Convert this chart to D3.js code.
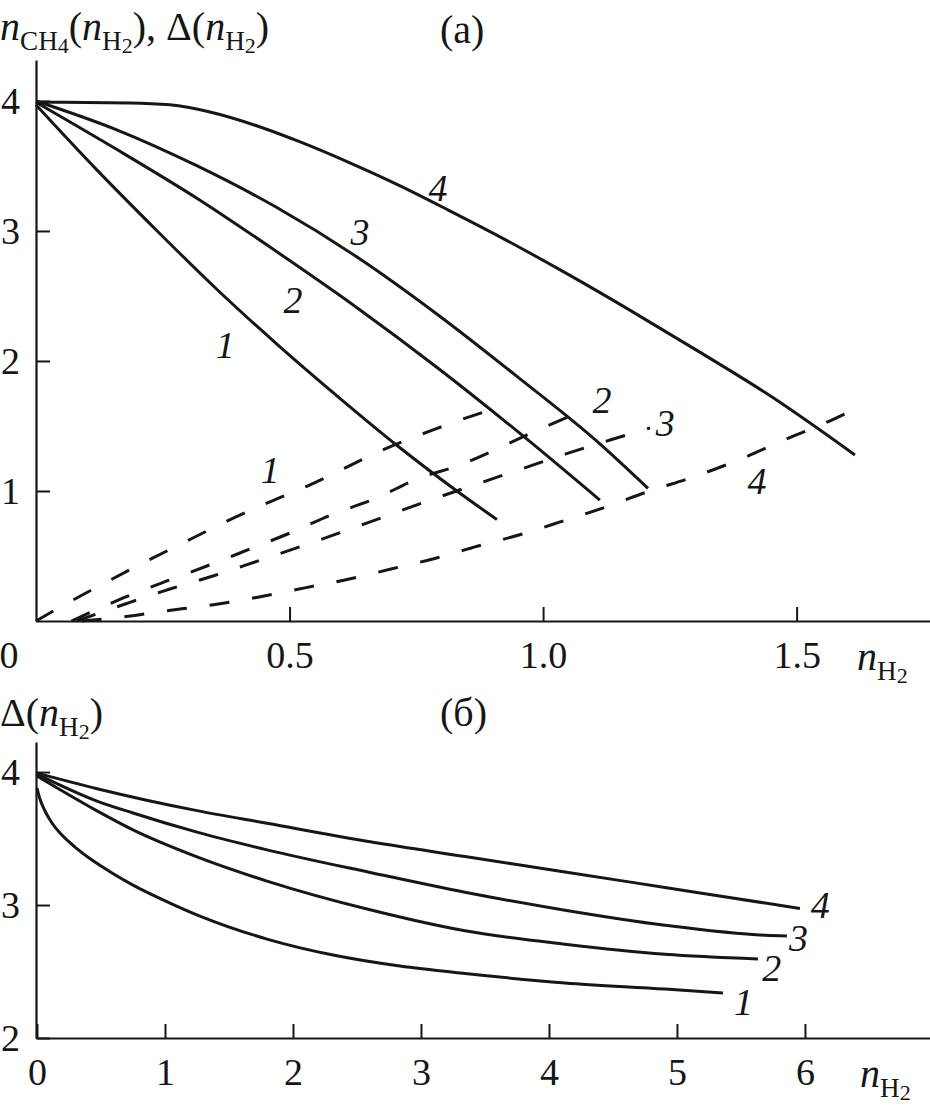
<!DOCTYPE html>
<html>
<head>
<meta charset="utf-8">
<script src="https://cdn.jsdelivr.net/npm/d3@7"></script>
<style>
  body { margin: 0; background: #fff; }
  svg { display: block; }
  text { font-family: "Liberation Serif", "Times New Roman", Tinos, "DejaVu Serif", "Noto Serif", serif; }
</style>
</head>
<body>
<svg id="chart"></svg>
<script>
// panel (а): n_CH4(n_H2) solid, Δ(n_H2) dashed
const methane1 = [[0,3.97],[0.12,3.47],[0.239,3.0],[0.357,2.55],[0.475,2.13],[0.594,1.73],[0.712,1.35],[0.83,1.0],[0.909,0.78]];
const methane2 = [[0,3.99],[0.158,3.63],[0.318,3.25],[0.475,2.84],[0.633,2.41],[0.791,1.95],[0.949,1.46],[1.112,0.93]];
const methane3 = [[0,4.0],[0.158,3.78],[0.318,3.50],[0.475,3.18],[0.633,2.80],[0.791,2.36],[0.949,1.88],[1.107,1.38],[1.207,1.02]];
const methane4 = [[0,3.99],[0.185,3.985],[0.264,3.97],[0.343,3.915],[0.442,3.80],[0.521,3.685],[0.619,3.524],[0.718,3.347],[0.816,3.155],[0.915,2.955],[1.053,2.658],[1.171,2.391],[1.309,2.068],[1.447,1.734],[1.615,1.277]];

const delta1 = [[0,0],[0.041,0.092],[0.132,0.285],[0.211,0.446],[0.29,0.60],[0.369,0.754],[0.456,0.908],[0.535,1.038],[0.692,1.33],[0.783,1.47],[0.862,1.58],[0.886,1.61]];
const delta2 = [[0.07,0],[0.172,0.177],[0.258,0.308],[0.337,0.423],[0.422,0.554],[0.501,0.677],[0.586,0.823],[0.672,0.946],[0.751,1.092],[0.83,1.192],[0.994,1.477],[1.073,1.608]];
const delta3 = [[0.08,0],[0.176,0.131],[0.264,0.246],[0.349,0.346],[0.438,0.462],[0.525,0.577],[0.609,0.692],[0.783,0.938],[0.87,1.054],[0.957,1.169],[1.045,1.285],[1.132,1.392],[1.211,1.485]];
const delta4 = [[0.09,0],[0.16,0.025],[0.25,0.075],[0.35,0.125],[0.44,0.185],[0.53,0.255],[0.62,0.325],[0.70,0.40],[0.79,0.485],[0.87,0.575],[0.96,0.67],[1.04,0.77],[1.13,0.885],[1.21,1.0],[1.29,1.10],[1.38,1.23],[1.48,1.40],[1.566,1.54],[1.625,1.65]];

// panel (б): Δ(n_H2) over a wider range
const shift1 = [[0,3.88],[0.023,3.797],[0.0625,3.707],[0.117,3.617],[0.195,3.526],[0.297,3.436],[0.43,3.338],[0.586,3.241],[0.75,3.15],[1.039,3.015],[1.273,2.917],[1.797,2.744],[2.313,2.624],[2.836,2.541],[3.344,2.485],[4.125,2.414],[4.906,2.368],[5.359,2.338]];
const shift2 = [[0,3.97],[0.469,3.708],[0.75,3.565],[1.25,3.362],[1.797,3.18],[2.602,2.964],[3.344,2.806],[4.125,2.705],[4.906,2.63],[5.633,2.595]];
const shift3 = [[0,3.985],[0.469,3.782],[0.75,3.692],[1.25,3.548],[1.797,3.415],[2.602,3.245],[3.344,3.096],[4.125,2.961],[4.906,2.848],[5.688,2.773],[5.859,2.768]];
const shift4 = [[0,3.992],[0.469,3.875],[1.25,3.71],[1.797,3.615],[2.602,3.476],[3.344,3.365],[4.125,3.249],[4.906,3.132],[5.961,2.974]];

// ticks
const xTicksA = [0.5, 1.0, 1.5];
const yTicksA = [1, 2, 3, 4];
const xTicksB = [0, 1, 2, 3, 4, 5, 6];
const yTicksB = [2, 3, 4];

// curve numbers, anchored in data units
const solidLabelsA = [["1",0.373,2.12],["2",0.507,2.47],["3",0.639,2.99],["4",0.793,3.33]];
const dashLabelsA = [["1",0.462,1.16],["2",1.116,1.70],["3",1.241,1.52],["4",1.422,1.08]];
const labelsB = [["1",5.52,2.27],["2",5.74,2.53],["3",5.95,2.75],["4",6.12,3.0]];

const W = 930, H = 1113;
const ink = "#161616";

const svg = d3.select("#chart").attr("width", W).attr("height", H);

const xA = d3.scaleLinear().domain([0, 1.763]).range([36, 930]);
const yA = d3.scaleLinear().domain([0, 4.315]).range([621, 60]);
const xB = d3.scaleLinear().domain([0, 6.977]).range([37, 930]);
const yB = d3.scaleLinear().domain([2, 4.226]).range([1038, 742]);

const styleAxis = g => {
    g.attr("font-family", null);
    g.select(".domain").attr("stroke", ink).attr("stroke-width", 2.2);
    g.selectAll(".tick line").attr("stroke", ink).attr("stroke-width", 2);
    g.selectAll(".tick text").attr("fill", ink).style("font-size", "38px");
};

// axes, ticks pointing inward
svg.append("g").attr("transform", "translate(0,621)")
    .call(d3.axisBottom(xA).tickValues(xTicksA).tickFormat(d3.format(".1f"))
        .tickSize(-14).tickSizeOuter(0).tickPadding(20))
    .call(styleAxis);
svg.append("g").attr("transform", "translate(36,0)")
    .call(d3.axisLeft(yA).tickValues(yTicksA).tickFormat(d3.format("d"))
        .tickSize(-14).tickSizeOuter(0).tickPadding(16))
    .call(styleAxis);
svg.append("g").attr("transform", "translate(0,1038)")
    .call(d3.axisBottom(xB).tickValues(xTicksB).tickFormat(d3.format("d"))
        .tickSize(-14).tickSizeOuter(0).tickPadding(20))
    .call(styleAxis);
svg.append("g").attr("transform", "translate(36,0)")
    .call(d3.axisLeft(yB).tickValues(yTicksB).tickFormat(d3.format("d"))
        .tickSize(-14).tickSizeOuter(0).tickPadding(16))
    .call(styleAxis);

// origin "0" of the top panel sits left of the axis
svg.append("text").attr("x", 9).attr("y", 668).attr("text-anchor", "middle")
    .style("font-size", "38px").attr("fill", ink).text("0");

// curves
const lineA = d3.line().x(d => xA(d[0])).y(d => yA(d[1])).curve(d3.curveMonotoneX);
const lineB = d3.line().x(d => xB(d[0])).y(d => yB(d[1])).curve(d3.curveMonotoneX);

svg.append("g").selectAll("path")
    .data([methane1, methane2, methane3, methane4])
    .join("path")
    .attr("d", lineA).attr("fill", "none").attr("stroke", ink).attr("stroke-width", 3);

svg.append("g").selectAll("path")
    .data([delta1, delta2, delta3, delta4])
    .join("path")
    .attr("d", lineA).attr("fill", "none").attr("stroke", ink).attr("stroke-width", 3)
    .attr("stroke-dasharray", "20 23");

svg.append("g").selectAll("path")
    .data([shift1, shift2, shift3, shift4])
    .join("path")
    .attr("d", lineB).attr("fill", "none").attr("stroke", ink).attr("stroke-width", 3);

// curve numbers
const numLabel = (data, xs, ys) => svg.append("g").selectAll("text")
    .data(data).join("text")
    .attr("x", d => xs(d[1])).attr("y", d => ys(d[2]))
    .attr("text-anchor", "middle").attr("dominant-baseline", "central")
    .style("font-style", "italic").style("font-size", "38px")
    .attr("fill", ink).text(d => d[0]);
numLabel(solidLabelsA, xA, yA);
numLabel(dashLabelsA, xA, yA);
numLabel(labelsB, xB, yB);

// text with sub- and sub-sub-scripts: parts = [text, level, italic]
function richText(x, y, parts, size) {
    const t = svg.append("text").attr("x", x).attr("y", y)
        .style("font-size", size + "px").attr("fill", ink);
    const offs = [0, 0.25 * size, 0.33 * size];
    const sizes = [size, size * 0.68, size * 0.55];
    let level = 0;
    parts.forEach(([s, lv, it]) => {
        t.append("tspan").attr("dy", offs[lv] - offs[level])
            .style("font-size", sizes[lv] + "px")
            .style("font-style", it ? "italic" : "normal").text(s);
        level = lv;
    });
}

richText(0, 40, [["n",0,1],["CH",1],["4",2],["(",0],["n",0,1],["H",1],["2",2],["), Δ(",0],["n",0,1],["H",1],["2",2],[")",0]], 40);
richText(440, 43, [["(а)",0]], 40);
richText(857, 670, [["n",0,1],["H",1],["2",2]], 40);

richText(0, 726, [["Δ(",0],["n",0,1],["H",1],["2",2],[")",0]], 40);
richText(440, 726, [["(б)",0]], 40);
richText(860, 1087, [["n",0,1],["H",1],["2",2]], 40);
</script>
</body>
</html>
